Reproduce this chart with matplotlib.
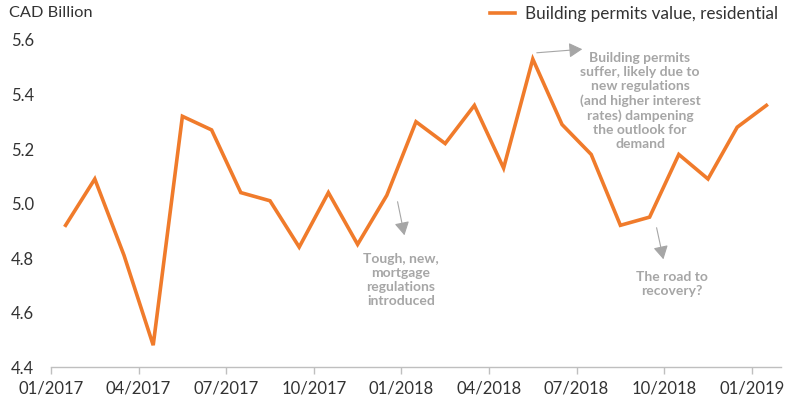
import matplotlib
matplotlib.use("Agg")
import matplotlib.pyplot as plt

months = ["01/2017","02/2017","03/2017","04/2017","05/2017","06/2017","07/2017","08/2017",
          "09/2017","10/2017","11/2017","12/2017","01/2018","02/2018","03/2018","04/2018",
          "05/2018","06/2018","07/2018","08/2018","09/2018","10/2018","11/2018","12/2018","01/2019"]
values = [4.92, 5.09, 4.81, 4.48, 5.32, 5.27, 5.04, 5.01, 4.84, 5.04, 4.85, 5.03,
          5.30, 5.22, 5.36, 5.13, 5.53, 5.29, 5.18, 4.92, 4.95, 5.18, 5.09, 5.28, 5.36]
tick_labels = ["01/2017","04/2017","07/2017","10/2017","01/2018","04/2018","07/2018","10/2018","01/2019"]
y_ticks = [4.4, 4.6, 4.8, 5.0, 5.2, 5.4, 5.6]
series_name = "Building permits value, residential"

plt.rcParams['font.family'] = ['Lato', 'DejaVu Sans']

fig = plt.figure(figsize=(8, 4.09), dpi=100)
ax = fig.add_axes([51/800, 1-367/409, (781-51)/800, (367-40)/409])

orange = "#F07B2B"
grey_txt = "#A6A6A6"
dark = "#333333"

x = [i + 0.5 for i in range(len(values))]
ax.plot(x, values, color=orange, lw=2.6, solid_joinstyle='miter', label=series_name)

ax.set_xlim(0, 25)
ax.set_ylim(4.4, 5.6)
ax.set_xticks([i*3 for i in range(len(tick_labels))])
ax.set_xticklabels(tick_labels)
ax.set_yticks(y_ticks)
ax.set_yticklabels([f"{v:.1f}" for v in y_ticks])

for s in ["top", "right", "left"]:
    ax.spines[s].set_visible(False)
ax.spines["bottom"].set_color("#BFBFBF")
ax.spines["bottom"].set_linewidth(1.0)
ax.tick_params(axis="x", colors="#BFBFBF", labelcolor=dark, length=5, width=1.0, labelsize=12, pad=5)
ax.tick_params(axis="y", length=0, labelcolor=dark, labelsize=12, pad=12)

fig.text(9/800, 1-13/409, "CAD Billion", fontsize=11.8, color=dark, ha="left", va="center")

leg = fig.legend(loc="center left", bbox_to_anchor=(490/800, 1-14/409), frameon=False,
                 fontsize=12.3, handlelength=1.45, handletextpad=0.6, borderaxespad=0, borderpad=0)
for t in leg.get_texts():
    t.set_color(dark)

akw = dict(arrowstyle="-|>,head_length=0.8,head_width=0.45", color="#A6A6A6", lw=0.8)

def px(xp, yp):
    return (xp/800, 1 - yp/409)

ax.annotate("", xy=px(405, 238), xycoords="figure fraction",
            xytext=px(397, 199), textcoords="figure fraction", arrowprops=akw)
fig.text(401/800, 1-280/409, "Tough, new,\nmortgage\nregulations\nintroduced", ha="center", va="center",
         fontsize=10, color=grey_txt, fontweight="bold", linespacing=1.22)

ax.annotate("", xy=px(585, 49), xycoords="figure fraction",
            xytext=px(534, 53), textcoords="figure fraction", arrowprops=akw)
fig.text(640/800, 1-101/409, "Building permits\nsuffer, likely due to\nnew regulations\n(and higher interest\nrates) dampening\nthe outlook for\ndemand",
         ha="center", va="center", fontsize=10, color=grey_txt, fontweight="bold", linespacing=1.22)

ax.annotate("", xy=px(664, 262), xycoords="figure fraction",
            xytext=px(656, 225), textcoords="figure fraction", arrowprops=akw)
fig.text(672/800, 1-284/409, "The road to\nrecovery?", ha="center", va="center",
         fontsize=10, color=grey_txt, fontweight="bold", linespacing=1.22)

fig.savefig("out.png", dpi=100)
